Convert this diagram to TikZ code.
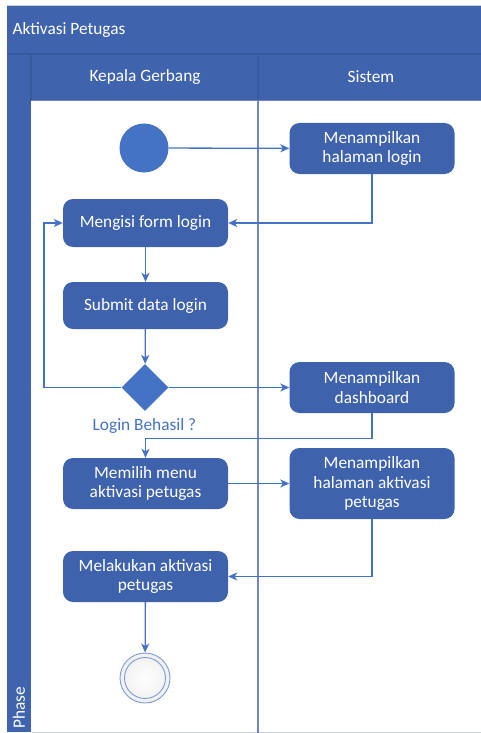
\documentclass[tikz,border=0pt]{standalone}
\usepackage{fontspec}
\setmainfont{Carlito}
\usetikzlibrary{arrows.meta,shapes.geometric}
\definecolor{poolblue}{HTML}{3F64AD}
\definecolor{poolline}{HTML}{385A9C}
\definecolor{nodeblue}{HTML}{3E62AB}
\definecolor{accent}{HTML}{4472C4}
\definecolor{laneline}{HTML}{7088BF}
\definecolor{edgegray}{HTML}{C8D0DC}
\tikzset{
  txt/.style={font=\fontsize{17.3}{19.5}\selectfont},
  act/.style={txt, rectangle, rounded corners=10pt, fill=nodeblue, text=white,
    align=center, inner sep=2pt, minimum width=165pt},
  flow/.style={draw=accent, line width=1.3pt,
    -{Stealth[length=9pt,width=8pt,inset=2.5pt]}},
  hdr/.style={txt, text=white},
}
\begin{document}
\begin{tikzpicture}[x=1pt,y=-1pt]
\useasboundingbox (0,0) rectangle (481,733);

% swimlane pool: title band, lane headers, phase bar
\fill[poolblue] (7,6) rectangle (481,101);
\fill[poolblue] (7,101) rectangle (31,732);
\draw[edgegray, line width=1pt] (7,6) -- (481,6);
\draw[edgegray, line width=1pt] (31,732) -- (481,732);
\draw[poolline, line width=1.2pt] (7,54) -- (481,54);
\draw[poolline, line width=1.2pt] (31,54) -- (31,101);
\draw[poolline, line width=1.5pt] (258,54) -- (258,101);
\draw[laneline, line width=1.8pt] (258,101) -- (258,733);
\draw[laneline, line width=1pt] (31,101) -- (481,101);

\node[hdr, anchor=west] (title) at (9,30) {Aktivasi Petugas};
\node[hdr] (laneA) at (145,77) {Kepala Gerbang};
\node[hdr] (laneB) at (371,77) {Sistem};
\node[hdr, rotate=90] (phase) at (19,708) {Phase};

% activities
\node[circle, fill=accent, minimum size=49pt, inner sep=0] (start) at (144,148) {};
\node[act, minimum height=51pt] (login) at (372,148.5) {Menampilkan\\halaman login};
\node[act, minimum height=48pt] (isi) at (145.5,223) {Mengisi form login};
\node[act, minimum height=47pt] (submit) at (145.5,305.5) {Submit data login};
\node[diamond, fill=accent, minimum size=47pt, aspect=1, inner sep=0] (cek) at (145,387.5) {};
\node[txt, text=accent] (cekLabel) at (144.5,426) {Login Behasil ?};
\node[act, minimum height=51pt] (dash) at (372,387.5) {Menampilkan\\dashboard};
\node[act, minimum height=51pt] (menu) at (145.5,483.5) {Memilih menu\\aktivasi petugas};
\node[act, minimum height=71pt] (halAkt) at (372,483.5) {Menampilkan\\halaman aktivasi\\petugas};
\node[act, minimum height=51pt] (aktivasi) at (145.5,576.5) {Melakukan aktivasi\\petugas};
\node[circle, draw=accent!70, line width=0.9pt, minimum size=50pt, inner sep=0,
      inner color=white, outer color=gray!12] (stop) at (145,678) {};
\draw[accent!70, line width=0.9pt] (stop.center) circle (20.5pt);

% control flow
\draw[flow] (start) -- (login);
\draw[flow] (login.south) |- (isi.east);
\draw[flow] (isi) -- (submit);
\draw[flow] (submit) -- (cek);
\coordinate (loopL) at (44,387.5);
\draw[flow] (cek.west) -- (loopL) |- (isi.west);
\draw[flow] (cek.east) -- (dash.west);
\coordinate (turn) at (372,438.5);
\draw[flow] (dash.south) -- (turn) -| (menu.north);
\draw[flow] (menu.east) -- (halAkt.west |- menu.east);
\draw[flow] (halAkt.south) |- (aktivasi.east);
\draw[flow] (aktivasi) -- (stop);
\end{tikzpicture}
\end{document}
